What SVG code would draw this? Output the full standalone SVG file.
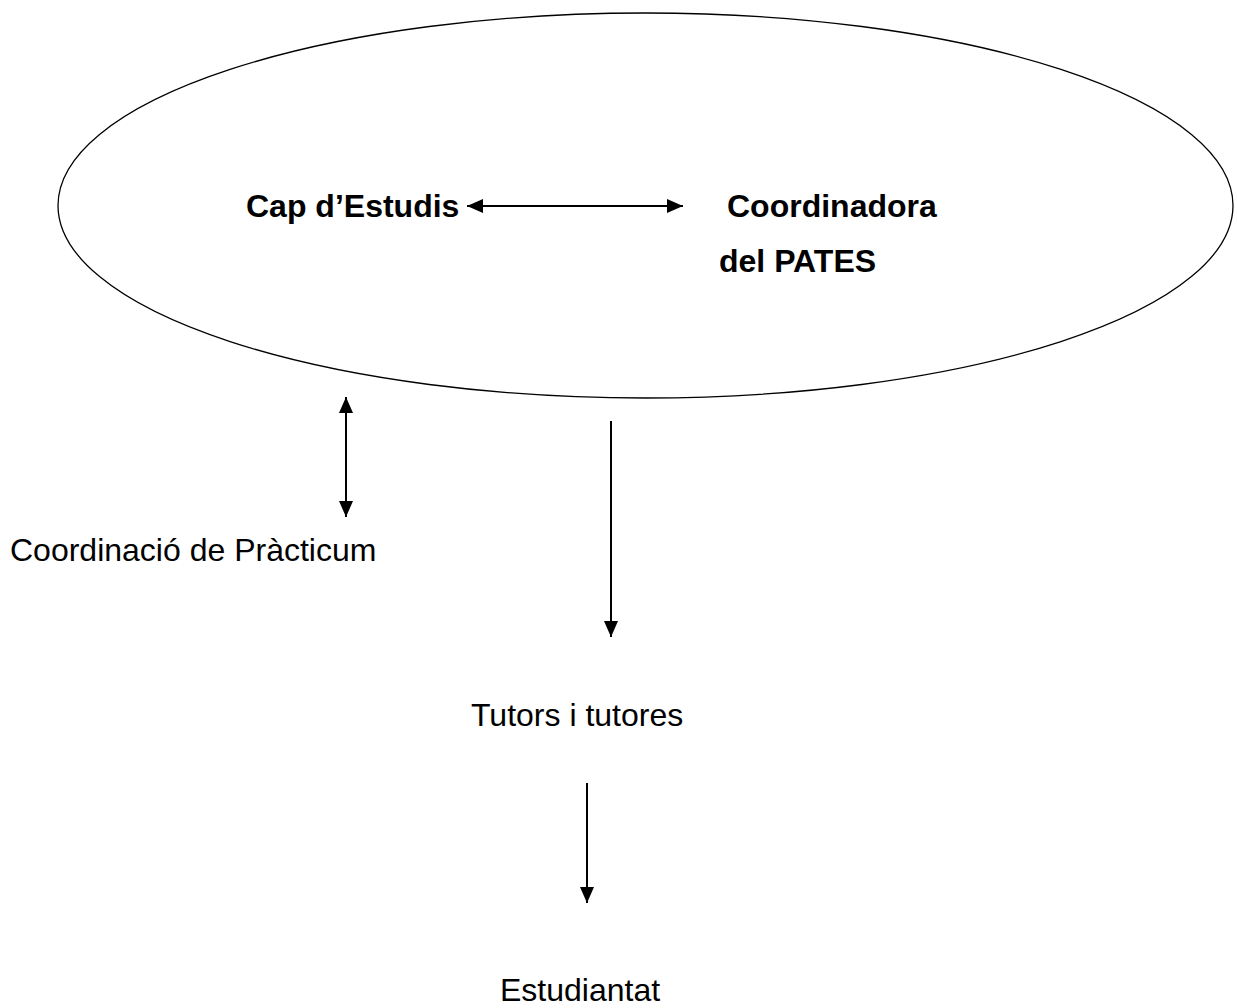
<svg xmlns="http://www.w3.org/2000/svg" width="1237" height="1008" viewBox="0 0 1237 1008">
<style>
.b{font-family:"Liberation Sans",Arial,sans-serif;font-size:32px;font-weight:bold;fill:#000}
.r{font-family:"Liberation Sans",Arial,sans-serif;font-size:32px;fill:#000}
.c{stroke:#000;stroke-width:2;fill:none}
</style>
<defs>
<marker id="ah" viewBox="0 0 16 14" refX="16" refY="7" markerWidth="16" markerHeight="14" markerUnits="userSpaceOnUse" orient="auto-start-reverse">
<path d="M0,0 L16,7 L0,14 Z" fill="#000"/>
</marker>
</defs>
<rect width="1237" height="1008" fill="#fff"/>
<g id="ellipse-node">
<ellipse cx="645.5" cy="205.5" rx="587.5" ry="192.5" fill="none" stroke="#000" stroke-width="1.3"/>
</g>
<g id="cap-estudis"><text class="b" x="246" y="217">Cap d’Estudis</text></g>
<g id="coordinadora"><text class="b" x="727" y="217">Coordinadora</text><text class="b" x="719" y="272">del PATES</text></g>
<g id="coord-practicum"><text class="r" x="10" y="561">Coordinació de Pràcticum</text></g>
<g id="tutors"><text class="r" x="471" y="726">Tutors i tutores</text></g>
<g id="estudiantat"><text class="r" x="500" y="1001">Estudiantat</text></g>
<g id="connectors">
<line class="c" x1="467" y1="206" x2="683" y2="206" marker-start="url(#ah)" marker-end="url(#ah)"/>
<line class="c" x1="346" y1="397" x2="346" y2="517" marker-start="url(#ah)" marker-end="url(#ah)"/>
<line class="c" x1="611" y1="421" x2="611" y2="637" marker-end="url(#ah)"/>
<line class="c" x1="587" y1="783" x2="587" y2="903" marker-end="url(#ah)"/>
</g>
</svg>
